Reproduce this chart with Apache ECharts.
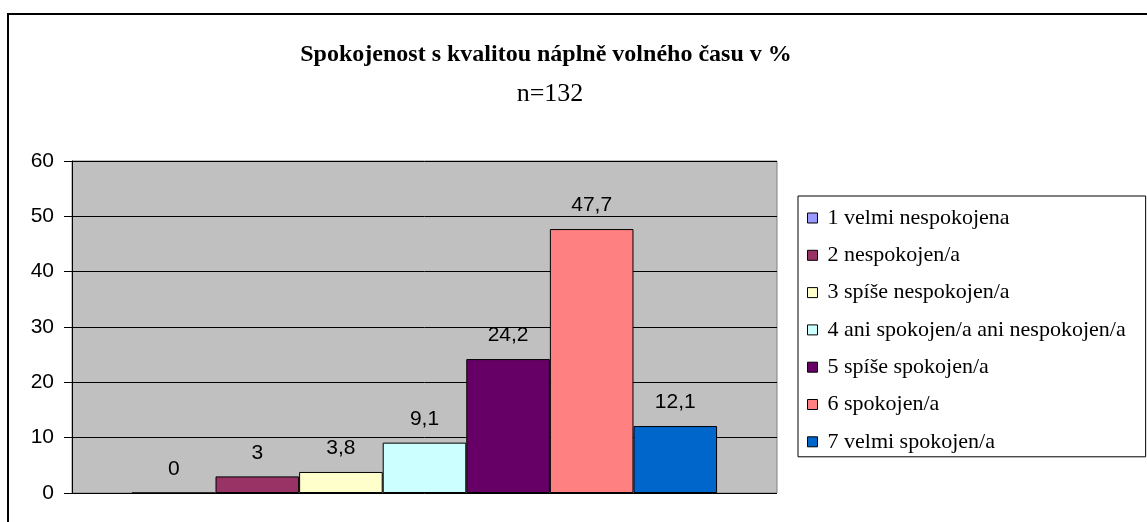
<!DOCTYPE html>
<html>
<head>
<meta charset="utf-8">
<script src="https://cdn.jsdelivr.net/npm/echarts@6/dist/echarts.min.js"></script>
<style>
  html, body { margin: 0; padding: 0; background: #fff; }
  #chart { width: 1147px; height: 522px; }
</style>
</head>
<body>
<div id="chart"></div>
<script>
// data
var categories = [''];
var seriesNames = [
    '1 velmi nespokojena',
    '2 nespokojen/a',
    '3 spíše nespokojen/a',
    '4 ani spokojen/a ani nespokojen/a',
    '5 spíše spokojen/a',
    '6 spokojen/a',
    '7 velmi spokojen/a'
];
var values = [0, 3, 3.8, 9.1, 24.2, 47.7, 12.1];
var yTicks = [0, 10, 20, 30, 40, 50, 60];

var colors = ['#9999FF', '#993366', '#FFFFCC', '#CCFFFF', '#660066', '#FF8080', '#0066CC'];

var myChart = echarts.init(document.getElementById('chart'));

var series = seriesNames.map(function (name, i) {
    return {
        name: name,
        type: 'bar',
        data: [values[i]],
        barGap: '0%',
        barCategoryGap: '17%',
        itemStyle: { color: colors[i], borderColor: '#000', borderWidth: 1 },
        label: {
            show: true,
            position: 'top',
            distance: 13,
            color: '#000',
            fontFamily: 'Liberation Sans, Arial, sans-serif',
            fontSize: 21,
            formatter: function (p) { return String(p.value).replace('.', ','); }
        }
    };
});

var option = {
    animation: false,
    title: [
        {
            text: 'Spokojenost s kvalitou náplně volného času v %',
            left: 541, top: 38, textAlign: 'center',
            textStyle: { fontFamily: 'Liberation Serif, Times New Roman, serif', fontWeight: 'bold', fontSize: 24, color: '#000' }
        },
        {
            text: 'n=132',
            left: 545, top: 76, textAlign: 'center',
            textStyle: { fontFamily: 'Liberation Serif, Times New Roman, serif', fontWeight: 'normal', fontSize: 26, color: '#000' }
        }
    ],
    graphic: [{
        type: 'rect',
        shape: { x: 8, y: 14, width: 1200, height: 600 },
        style: { fill: 'none', stroke: '#000', lineWidth: 2 },
        silent: true
    }],
    legend: {
        orient: 'vertical',
        left: 798, top: 196,
        padding: [10, 20, 3, 9],
        itemGap: 13.3,
        itemWidth: 10, itemHeight: 10,
        icon: 'rect',
        borderColor: '#000', borderWidth: 1,
        itemStyle: { borderColor: '#000', borderWidth: 1 },
        textStyle: { fontFamily: 'Liberation Serif, Times New Roman, serif', fontSize: 22, color: '#000', lineHeight: 24, padding: [0, 0, 0, 5] },
        data: seriesNames
    },
    grid: {
        left: 72, right: 370, top: 161, bottom: 29,
        show: true, backgroundColor: '#C0C0C0', borderColor: '#808080', borderWidth: 1
    },
    xAxis: {
        type: 'category',
        data: categories,
        axisLine: { show: false },
        axisTick: { show: false },
        axisLabel: { show: false }
    },
    yAxis: {
        type: 'value',
        min: yTicks[0], max: yTicks[yTicks.length - 1], interval: 10,
        axisLine: { show: true, lineStyle: { color: '#000', width: 1 } },
        axisTick: { show: true, length: 8, lineStyle: { color: '#000' } },
        axisLabel: { color: '#000', fontSize: 21, fontFamily: 'Liberation Sans, Arial, sans-serif', margin: 18 },
        splitLine: { show: true, lineStyle: { color: '#000', width: 1 } }
    },
    series: series
};

myChart.setOption(option);
window.addEventListener('resize', function () {
    myChart.resize();
});
</script>
</body>
</html>
